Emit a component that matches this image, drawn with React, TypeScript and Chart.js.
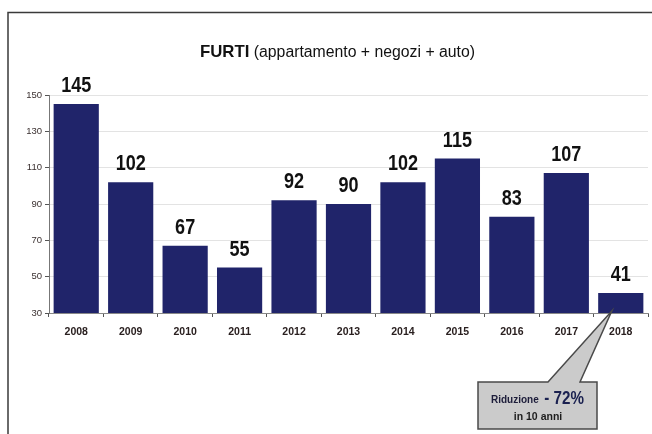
import React, { useEffect, useRef } from "react";
import { Chart, registerables } from "chart.js";

Chart.register(...registerables);

const years = ["2008", "2009", "2010", "2011", "2012", "2013", "2014", "2015", "2016", "2017", "2018"];
const furti = [145, 102, 67, 55, 92, 90, 102, 115, 83, 107, 41];
const yMin = 30;
const yMax = 150;
const yStep = 20;
const titleBold = "FURTI";
const titleRest = " (appartamento + negozi + auto)";
const calloutMain = "Riduzione";
const calloutPct = " - 72%";
const calloutSub = "in 10 anni";

const BAR = "#20246a";
const SANS = '"Liberation Sans", Arial, sans-serif';
const CONDENSE = 0.82;

function drawCondensed(ctx: any, text: string, x: number, y: number, sx: number) {
  ctx.save();
  ctx.translate(x, y);
  ctx.scale(sx, 1);
  ctx.fillText(text, 0, 0);
  ctx.restore();
}

const decorPlugin = {
  id: "decor",
  beforeDraw(chart: any) {
    const ctx = chart.ctx;
    ctx.save();
    ctx.fillStyle = "#ffffff";
    ctx.fillRect(0, 0, chart.width, chart.height);
    // frame
    ctx.strokeStyle = "#3a3a3a";
    ctx.lineWidth = 1.5;
    ctx.beginPath();
    ctx.moveTo(8, chart.height);
    ctx.lineTo(8, 12.5);
    ctx.lineTo(chart.width, 12.5);
    ctx.stroke();
    // title
    ctx.textBaseline = "alphabetic";
    ctx.textAlign = "left";
    ctx.fillStyle = "#111111";
    ctx.font = "bold 17px " + SANS;
    const w1 = ctx.measureText(titleBold).width;
    ctx.font = "16px " + SANS;
    const w2 = ctx.measureText(titleRest).width;
    const sx = 275 / (w1 + w2);
    const x0 = 200;
    ctx.font = "bold 17px " + SANS;
    drawCondensed(ctx, titleBold, x0, 57, sx);
    ctx.font = "16px " + SANS;
    drawCondensed(ctx, titleRest, x0 + w1 * sx, 57, sx);
    ctx.restore();
  },
  afterDatasetsDraw(chart: any) {
    const ctx = chart.ctx;
    const meta = chart.getDatasetMeta(0);
    ctx.save();
    ctx.fillStyle = "#111111";
    ctx.font = "bold 22px " + SANS;
    ctx.textAlign = "center";
    ctx.textBaseline = "alphabetic";
    meta.data.forEach((bar: any, i: number) => {
      drawCondensed(ctx, String(furti[i]), bar.x, bar.y - 12, CONDENSE);
    });
    // callout
    const xs = chart.scales.x;
    const ys = chart.scales.y;
    const last = years.length - 1;
    const tipX = xs.getPixelForValue(last) - 9;
    const tipY = ys.getPixelForValue(yMin) - 2;
    const bx = 478, by = 382, bw = 119, bh = 47;
    ctx.beginPath();
    ctx.moveTo(bx, by);
    ctx.lineTo(548, by);
    ctx.lineTo(tipX, tipY);
    ctx.lineTo(580, by);
    ctx.lineTo(bx + bw, by);
    ctx.lineTo(bx + bw, by + bh);
    ctx.lineTo(bx, by + bh);
    ctx.closePath();
    ctx.fillStyle = "#cbcbcb";
    ctx.fill();
    ctx.strokeStyle = "#4a4a4a";
    ctx.lineWidth = 1.5;
    ctx.stroke();
    ctx.textBaseline = "alphabetic";
    ctx.textAlign = "left";
    ctx.fillStyle = "#1d1d3a";
    ctx.font = "bold 10px " + SANS;
    ctx.fillText(calloutMain, 491, 403);
    ctx.fillStyle = "#1a2150";
    ctx.font = "bold 19px " + SANS;
    drawCondensed(ctx, calloutPct, 540, 404, 0.8);
    ctx.fillStyle = "#1d1d1d";
    ctx.font = "bold 10.5px " + SANS;
    ctx.textAlign = "center";
    ctx.fillText(calloutSub, 538, 420);
    ctx.restore();
  },
};

export default function App() {
  const ref = useRef<HTMLCanvasElement | null>(null);
  useEffect(() => {
    if (!ref.current) return;
    const chart = new Chart(ref.current, {
      type: "bar",
      data: {
        labels: years,
        datasets: [
          {
            data: furti,
            backgroundColor: BAR,
            borderWidth: 0,
            categoryPercentage: 1,
            barPercentage: 0.83,
          },
        ],
      },
      options: {
        animation: false,
        responsive: false,
        maintainAspectRatio: false,
        layout: { padding: { top: 95, right: 4, left: 0, bottom: 0 } },
        plugins: {
          legend: { display: false },
          title: { display: false },
          tooltip: { enabled: false },
        },
        scales: {
          x: {
            afterFit: (s: any) => {
              s.height = 434 - 313;
            },
            grid: {
              display: true,
              drawOnChartArea: false,
              tickLength: 4,
              color: "#555555",
            },
            border: { color: "#888888", width: 1 },
            ticks: {
              color: "#2a2020",
              font: { size: 10.5, weight: "bold", family: SANS },
              padding: 9,
              maxRotation: 0,
            },
          },
          y: {
            min: yMin,
            max: yMax,
            afterFit: (s: any) => {
              s.width = 49;
            },
            grid: {
              color: "#e3e3e3",
              tickLength: 4,
              tickColor: "#555555",
            },
            border: { color: "#777777", width: 1 },
            ticks: {
              stepSize: yStep,
              color: "#3a3030",
              font: { size: 9.5, family: SANS },
              padding: 3,
            },
          },
        },
      },
      plugins: [decorPlugin],
    });
    return () => chart.destroy();
  }, []);
  return (
    <div style={{ position: "fixed", left: 0, top: 0, width: 652, height: 434, background: "#fff" }}>
      <canvas ref={ref} width={652} height={434} style={{ width: 652, height: 434, display: "block" }} />
    </div>
  );
}
